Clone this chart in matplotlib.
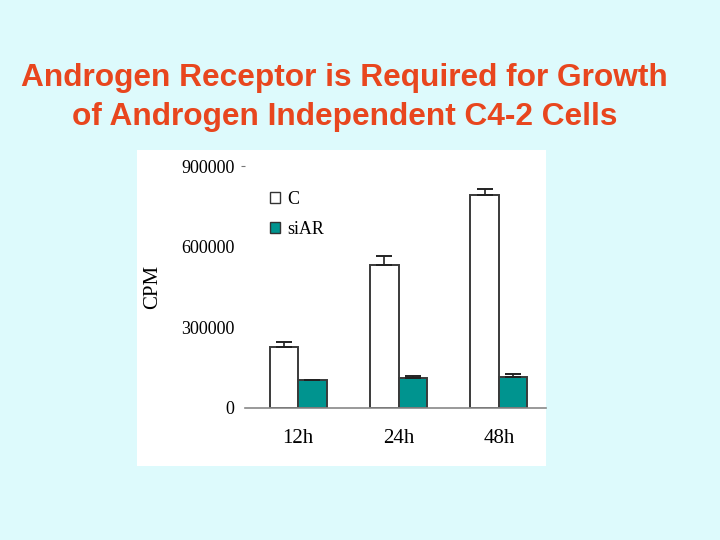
import matplotlib
matplotlib.use('Agg', force=True)
import matplotlib.pyplot as plt
import numpy as np
from matplotlib.patches import Rectangle, Patch

times = ['12h', '24h', '48h']
control = [227000, 531000, 792000]
control_err = [18000, 34000, 21000]
siar = [104000, 113000, 116000]
siar_err = [0, 7000, 9000]
yticks = [0, 300000, 600000, 900000]

bg = '#DDFAFC'
teal = '#00948F'
title_color = '#E8461E'
serif = 'Liberation Serif'

fig = plt.figure(figsize=(7.2, 5.4), dpi=100, facecolor=bg)
# white panel behind the chart
fig.patches.append(Rectangle((137 / 720, 74 / 540), 409 / 720, 316 / 540, transform=fig.transFigure,
                             facecolor='white', edgecolor='none', zorder=-5))

fig.text(0.4785, 1 - 78 / 540, 'Androgen Receptor is Required for Growth', ha='center', va='center',
         fontsize=22.8, fontweight='bold', color=title_color, family='Liberation Sans')
fig.text(0.4785, 1 - 117 / 540, 'of Androgen Independent C4-2 Cells', ha='center', va='center',
         fontsize=22.8, fontweight='bold', color=title_color, family='Liberation Sans')

ax = fig.add_axes([245 / 720, 132 / 540, 301 / 720, 242 / 540])
ax.set_facecolor('none')
x = np.arange(len(times))
w = 0.285
ax.bar(x - w / 2, control, w, color='white', edgecolor='#3a3a3a', linewidth=1.4, zorder=2)
ax.bar(x + w / 2, siar, w, color=teal, edgecolor='#3a3a3a', linewidth=1.4, zorder=2)
ax.errorbar(x - w / 2, control, yerr=[np.zeros(3), control_err], fmt='none', ecolor='#222222',
            elinewidth=1.2, capsize=6, capthick=1.4, zorder=3)
ax.errorbar(x + w / 2, siar, yerr=[np.zeros(3), siar_err], fmt='none', ecolor='#222222',
            elinewidth=1.2, capsize=6, capthick=1.4, zorder=3)

ax.set_xlim(-0.53, 2.47)
ax.set_ylim(0, 900000)
ax.set_yticks(yticks)
ax.set_yticklabels([str(v) for v in yticks], family=serif, fontsize=13)
ax.set_xticks(x)
ax.set_xticklabels(times, family=serif, fontsize=15)
ax.tick_params(axis='x', length=0, pad=15)
ax.tick_params(axis='y', length=3, width=0.8, color='#777777', pad=4.5)
for t in ax.yaxis.get_major_ticks()[:-1]:
    t.tick1line.set_visible(False)
for s in ['top', 'right', 'left']:
    ax.spines[s].set_visible(False)
ax.spines['bottom'].set_color('#888888')
ax.spines['bottom'].set_linewidth(1.2)
ax.set_ylabel('CPM', family=serif, fontsize=15, labelpad=14)

handles = [Patch(facecolor='white', edgecolor='#333333', label='C'),
           Patch(facecolor=teal, edgecolor='#333333', label='siAR')]
ax.legend(handles=handles, loc='upper left', bbox_to_anchor=(0.03, 0.965), frameon=False,
          prop={'family': serif, 'size': 13}, handlelength=0.55, handleheight=0.55,
          handletextpad=0.4, labelspacing=0.75)

fig.savefig('out.png', dpi=100, facecolor=bg)
